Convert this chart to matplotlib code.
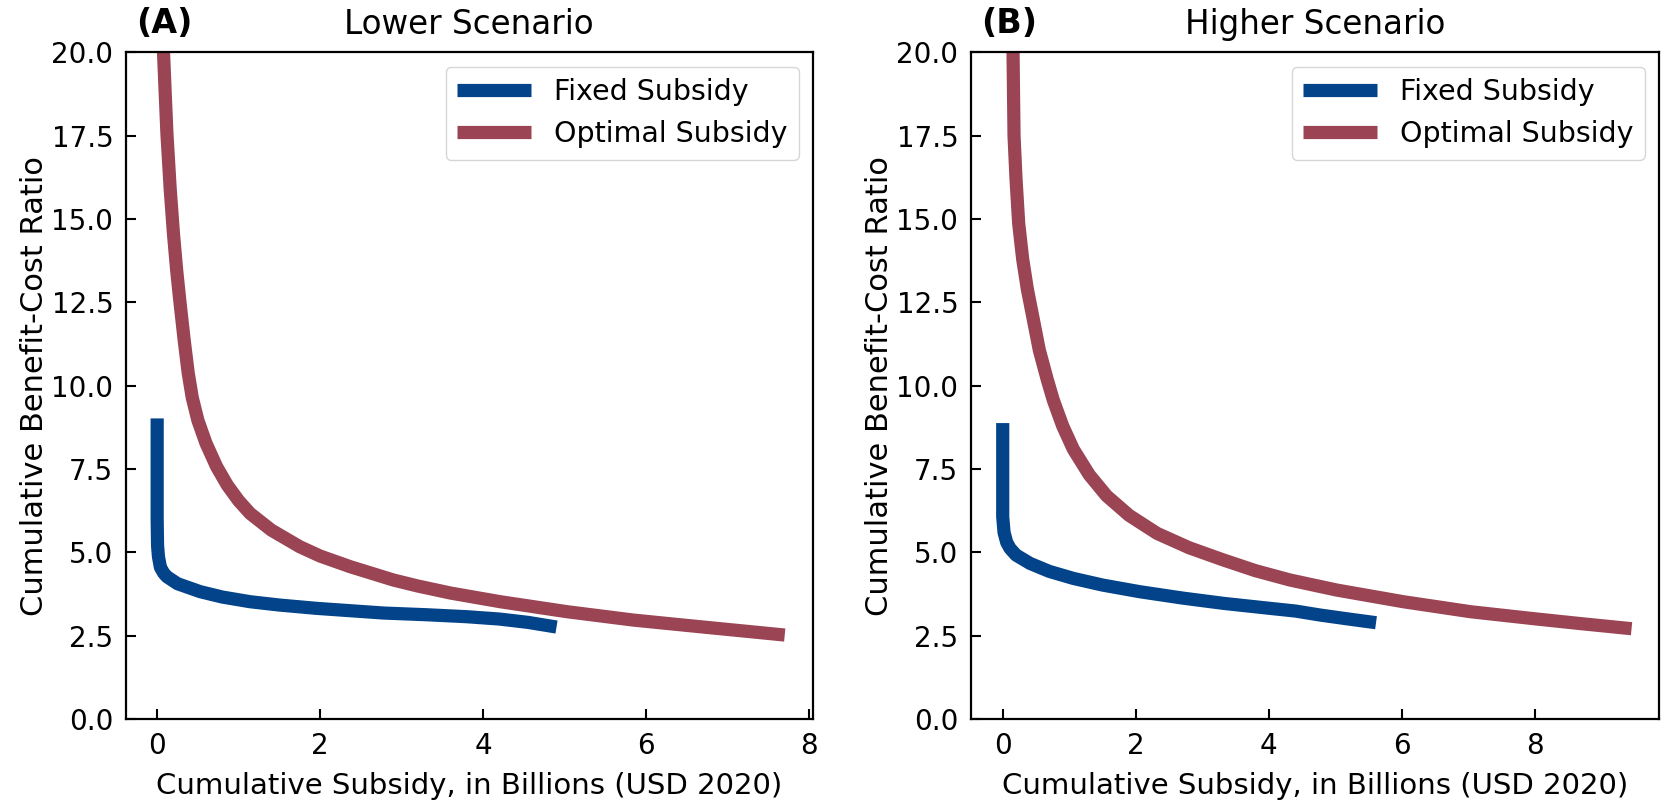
import matplotlib
matplotlib.use("Agg")
import matplotlib.pyplot as plt

# Panel A - lower scenario
fixed_a_x = [0.0, 0.0, 0.005, 0.016, 0.04, 0.08, 0.12, 0.25, 0.53, 0.8, 1.14, 1.5, 1.96,
             2.78, 3.3, 3.8, 4.2, 4.55, 4.9]
fixed_a_y = [9.02, 6.0, 5.2, 4.87, 4.55, 4.38, 4.27, 4.06, 3.82, 3.66, 3.52, 3.42, 3.32,
             3.18, 3.13, 3.07, 3.0, 2.9, 2.76]
opt_a_x = [0.07, 0.078, 0.1, 0.12, 0.16, 0.2, 0.24, 0.28, 0.33, 0.38, 0.43, 0.5, 0.6, 0.73,
           0.86, 1.0, 1.14, 1.4, 1.75, 2.0, 2.37, 2.9, 3.2, 3.6, 4.21, 5.03, 5.84, 6.66, 7.7]
opt_a_y = [20.6, 20.0, 18.7, 17.56, 15.9, 14.56, 13.45, 12.5, 11.4, 10.4, 9.65, 8.96, 8.27,
           7.57, 7.02, 6.55, 6.17, 5.67, 5.17, 4.89, 4.57, 4.17, 3.99, 3.78, 3.52, 3.22, 2.97,
           2.77, 2.52]

# Panel B - higher scenario
fixed_b_x = [0.0, 0.0, 0.02, 0.06, 0.11, 0.2, 0.41, 0.7, 1.06, 1.5, 2.06, 2.7, 3.32, 4.02,
             4.4, 4.77, 5.2, 5.61]
fixed_b_y = [8.88, 6.07, 5.6, 5.3, 5.12, 4.92, 4.67, 4.43, 4.22, 4.02, 3.82, 3.63, 3.47, 3.32,
             3.24, 3.12, 3.0, 2.89]
opt_b_x = [0.145, 0.155, 0.17, 0.2, 0.24, 0.3, 0.37, 0.44, 0.55, 0.67, 0.76, 0.9, 1.06, 1.3,
           1.56, 1.9, 2.32, 2.8, 3.32, 3.8, 4.32, 5.02, 6.02, 7.03, 8.03, 8.7, 9.45]
opt_b_y = [20.6, 20.0, 17.5, 16.2, 14.87, 13.8, 12.9, 12.19, 11.07, 10.18, 9.57, 8.8, 8.1, 7.33,
           6.7, 6.11, 5.57, 5.14, 4.77, 4.45, 4.17, 3.87, 3.52, 3.22, 3.0, 2.86, 2.71]

blue = '#02438a'
red = '#9a4454'

fig = plt.figure(figsize=(16.66, 8.07), dpi=100)
ax1 = fig.add_axes([0.0755, 0.109, 0.4124, 0.826])
ax2 = fig.add_axes([0.5827, 0.109, 0.413, 0.826])

panels = [
    (ax1, fixed_a_x, fixed_a_y, opt_a_x, opt_a_y, '(A)', 'Lower Scenario', (-0.385, 8.045)),
    (ax2, fixed_b_x, fixed_b_y, opt_b_x, opt_b_y, '(B)', 'Higher Scenario', (-0.48, 9.86)),
]

for ax, fx, fy, ox, oy, tag, title, xl in panels:
    ax.plot(fx, fy, color=blue, lw=9.5, solid_capstyle='butt', label='Fixed Subsidy')
    ax.plot(ox, oy, color=red, lw=9.5, solid_capstyle='butt', label='Optimal Subsidy')
    ax.set_xlim(xl)
    ax.set_ylim(0, 20)
    ax.set_yticks([0, 2.5, 5, 7.5, 10, 12.5, 15, 17.5, 20])
    ax.set_yticklabels(['0.0', '2.5', '5.0', '7.5', '10.0', '12.5', '15.0', '17.5', '20.0'])
    ax.tick_params(direction='in', length=7, width=1.5, labelsize=20, pad=9)
    for s in ax.spines.values():
        s.set_linewidth(1.6)
    ax.set_xlabel('Cumulative Subsidy, in Billions (USD 2020)', fontsize=21, labelpad=9)
    ax.set_ylabel('Cumulative Benefit-Cost Ratio', fontsize=22, labelpad=2)
    ax.set_title(title, fontsize=23.5, pad=13)
    ax.text(0.015, 1.018, tag, transform=ax.transAxes, fontsize=24, fontweight='bold',
            va='bottom', ha='left')
    ax.legend(loc='upper right', fontsize=20.5, handlelength=2.6)

fig.savefig('out.png', dpi=100)
